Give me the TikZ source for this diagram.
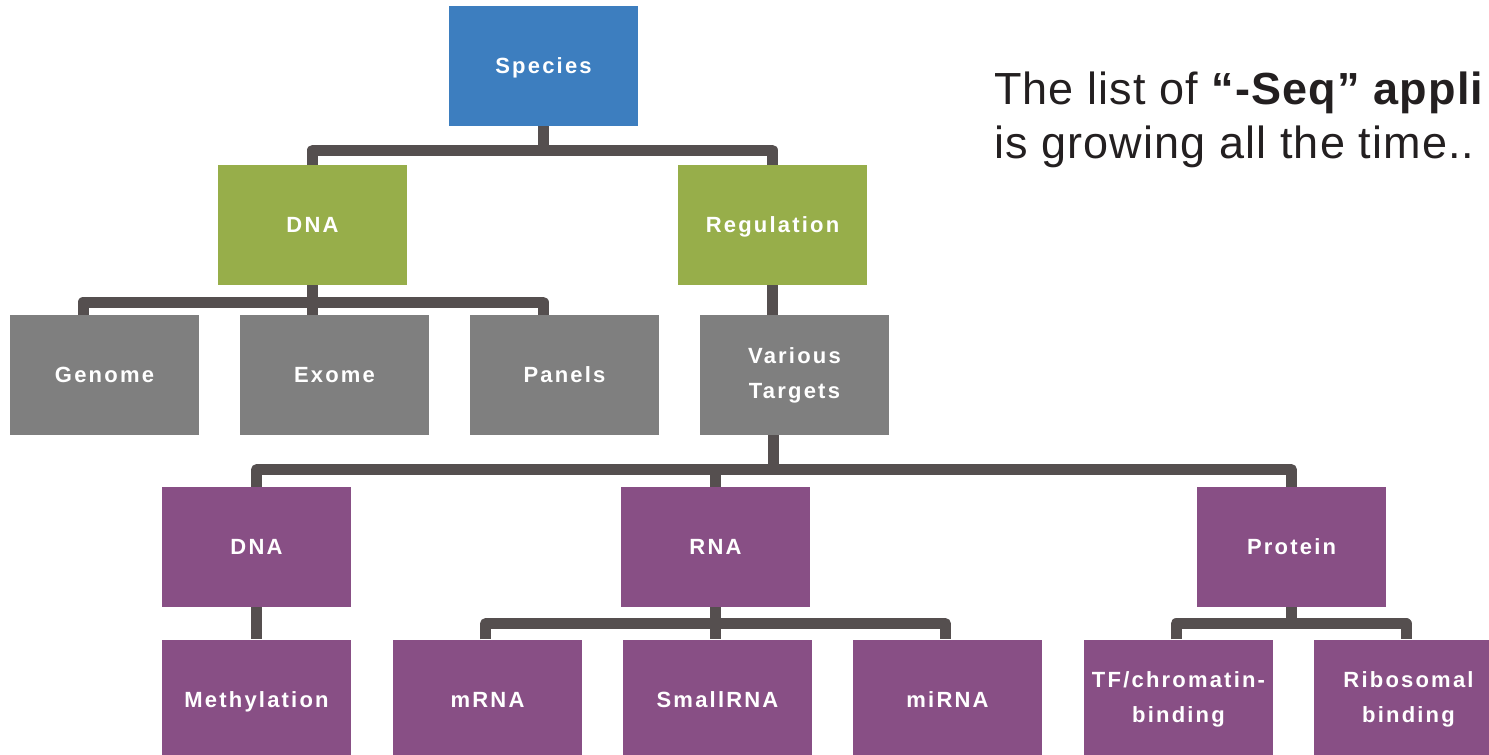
\documentclass[tikz,border=0pt]{standalone}
\usepackage{fontspec}
\setmainfont{Liberation Sans}
\newfontfamily\boxfont[LetterSpace=10]{Liberation Sans}
\newfontfamily\headfont[LetterSpace=2.5]{Liberation Sans}
\usetikzlibrary{calc}
\definecolor{cblue}{HTML}{3D7EBF}
\definecolor{cgreen}{HTML}{97AE4A}
\definecolor{cgrey}{HTML}{7F7F7F}
\definecolor{cpurple}{HTML}{884F85}
\definecolor{cline}{HTML}{554F4F}
\definecolor{ctext}{HTML}{231F20}
\begin{document}
\begin{tikzpicture}[x=1pt,y=-1pt,
  box/.style={rectangle, inner sep=0pt, minimum width=189pt, minimum height=120pt,
    text=white, align=center, font=\boxfont\bfseries\fontsize{22}{35}\selectfont},
  one/.style={text height=15.75pt, text depth=0pt},
  bluebox/.style={box, fill=cblue},
  greenbox/.style={box, fill=cgreen},
  greybox/.style={box, fill=cgrey},
  purplebox/.style={box, fill=cpurple},
  conn/.style={draw=cline, line width=11pt, line join=round}
]
\useasboundingbox (0,0) rectangle (1489,755);
\clip (0,0) rectangle (1489,755);

% boxes
\node[bluebox, one] (species) at (543.5,66) {Species};
\node[greenbox, one] (dnaA) at (312.5,225) {DNA};
\node[greenbox, one] (reg) at (772.5,225) {Regulation};
\node[greybox, one] (genome) at (104.5,375) {Genome};
\node[greybox, one] (exome) at (334.5,375) {Exome};
\node[greybox, one] (panels) at (564.5,375) {Panels};
\node[greybox] (targets) at (794.5,375) {Various\\Targets};
\node[purplebox, one] (dnaB) at (256.5,547) {DNA};
\node[purplebox, one] (rna) at (715.5,547) {RNA};
\node[purplebox, one] (protein) at (1291.5,547) {Protein};
\node[purplebox, one] (meth) at (256.5,699.5) {Methylation};
\node[purplebox, one] (mrna) at (487.5,699.5) {mRNA};
\node[purplebox, one] (small) at (717.5,699.5) {SmallRNA};
\node[purplebox, one] (mirna) at (947.5,699.5) {miRNA};
\node[purplebox] (tf) at (1178.5,699.5) {TF/chromatin-\\binding};
\node[purplebox] (ribo) at (1408.5,699.5) {Ribosomal\\binding};

% level 1
\draw[conn] (dnaA.north) -- ++(0,-14.5) -| (reg.north);
\draw[conn] (species.south) -- ++(0,24.5);
% level 2
\draw[conn] ([xshift=-21.5pt]genome.north) -- ++(0,-12.5) -| ([xshift=-21.5pt]panels.north);
\draw[conn] (dnaA.south) -- (dnaA.south |- exome.north);
\draw[conn] (reg.south) -- (reg.south |- targets.north);
% level 3
\draw[conn] (dnaB.north) -- ++(0,-17) -| (protein.north);
\draw[conn] (rna.north) -- ++(0,-17);
\draw[conn] ([xshift=-21.5pt]targets.south) -- ++(0,35);
% level 4
\draw[conn] (dnaB.south) -- (meth.north);
\draw[conn] ([xshift=-2pt]mrna.north) -- ++(0,-15.5) -| ([xshift=-2pt]mirna.north);
\draw[conn] (rna.south) -- (rna.south |- small.north);
\draw[conn] ([xshift=-2.5pt]tf.north) -- ++(0,-15.5) -| ([xshift=-2.5pt]ribo.north);
\draw[conn] (protein.south) -- ++(0,17);

% heading
\node[anchor=north west, align=left, text=ctext, inner sep=0pt,
  font=\headfont\fontsize{45}{54}\selectfont] (head) at (994,72)
  {The list of {\bfseries “-Seq” appli}\\is growing all the time..};
\end{tikzpicture}
\end{document}
